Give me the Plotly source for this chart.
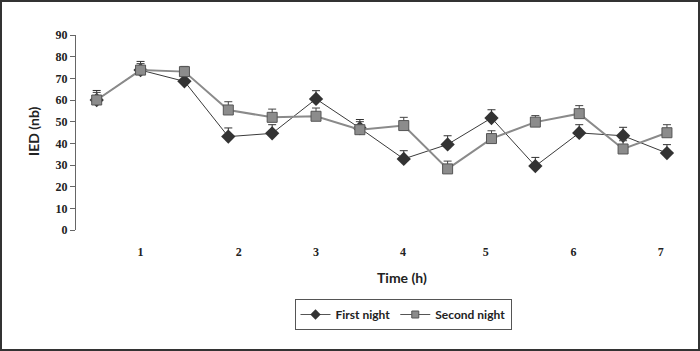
import plotly.graph_objects as go

# ---- data ----
point_index = list(range(14))
first_night = [60, 73.8, 68.6, 43.1, 44.6, 60.5, 47, 32.8, 39.5, 51.7, 29.5, 44.8, 43.5, 35.5]
first_err = [4.4, 4.0, 3.8, 4.0, 4.0, 3.8, 4.0, 3.8, 4.0, 3.8, 4.0, 3.8, 3.9, 3.9]
second_night = [60, 73.8, 73.1, 55.4, 52.0, 52.5, 46.3, 48.2, 28.2, 42.2, 49.8, 53.7, 37.4, 44.9]
second_err = [3.5, 3.0, 2.4, 3.8, 3.8, 3.8, 3.7, 3.8, 3.6, 3.6, 3.0, 3.7, 3.8, 3.7]
tick_labels = ["1", "2", "3", "4", "5", "6", "7"]
tick_positions = [1, 3.24, 5.0, 6.98, 8.87, 10.87, 12.86]
y_ticks = [0, 10, 20, 30, 40, 50, 60, 70, 80, 90]

W, H = 700, 351
ML, MR, MT, MB = 76, 12, 35, 121
pw = W - ML - MR
ph = H - MT - MB

serif = "Liberation Serif"
sans = "Lato"

first_line = dict(color="#3a3a3a", width=1)
second_line = dict(color="#8a8a8a", width=2)

fig = go.Figure()
fig.add_trace(go.Scatter(
    x=point_index, y=first_night, name="First night", mode="lines+markers", showlegend=False,
    line=first_line,
    marker=dict(symbol="diamond", size=11, color="#333333", line=dict(color="#333333", width=0)),
    error_y=dict(type="data", array=first_err, arrayminus=[0] * len(first_err), symmetric=False,
                 color="#333333", thickness=1, width=4),
))
fig.add_trace(go.Scatter(
    x=point_index, y=second_night, name="Second night", mode="lines+markers", showlegend=False,
    line=second_line,
    marker=dict(symbol="square", size=10, color="#8c8c8c", line=dict(color="#555555", width=1)),
    error_y=dict(type="data", array=second_err, arrayminus=[0] * len(second_err), symmetric=False,
                 color="#444444", thickness=1, width=4),
))
# legend entries with smaller symbols, as in the original
fig.add_trace(go.Scatter(
    x=[None], y=[None], name="First night", mode="lines+markers",
    line=dict(color="#555555", width=1),
    marker=dict(symbol="diamond", size=8, color="#333333"),
))
fig.add_trace(go.Scatter(
    x=[None], y=[None], name="Second night", mode="lines+markers",
    line=dict(color="#555555", width=1),
    marker=dict(symbol="square", size=7, color="#8c8c8c", line=dict(color="#555555", width=1)),
))

fig.update_layout(
    width=W, height=H,
    margin=dict(l=ML, r=MR, t=MT, b=MB),
    paper_bgcolor="white", plot_bgcolor="white",
    showlegend=True,
    legend=dict(orientation="h", x=(403 - ML) / pw, xanchor="center",
                y=(MT + ph - 299) / ph, yanchor="top",
                bordercolor="#555555", borderwidth=1,
                font=dict(family=sans, size=12, color="#222222", weight="bold"),
                itemwidth=30, tracegroupgap=0),
    xaxis=dict(range=[-0.472, 13.48], showline=False, showgrid=False, zeroline=False,
               ticks="", tickmode="array", tickvals=tick_positions, ticktext=tick_labels,
               ticklabelstandoff=13,
               tickfont=dict(family=serif, size=12, color="#222222", weight="bold")),
    yaxis=dict(range=[0, 90], showline=True, linecolor="#666666", linewidth=1,
               showgrid=False, zeroline=False, ticks="outside", ticklen=5, tickcolor="#666666",
               tickmode="array", tickvals=y_ticks,
               tickfont=dict(family=serif, size=12, color="#222222", weight="bold")),
    annotations=[
        dict(text="Time (h)", xref="paper", yref="paper", x=(402 - ML) / pw, y=(MT + ph - 277) / ph,
             xanchor="center", yanchor="middle", showarrow=False,
             font=dict(family=sans, size=14, color="#222222", weight="bold")),
        dict(text="IED (nb)", xref="paper", yref="paper", x=(33 - ML) / pw, y=(MT + ph - 132) / ph,
             xanchor="center", yanchor="middle", showarrow=False, textangle=-90,
             font=dict(family=sans, size=14, color="#222222", weight="bold")),
    ],
    shapes=[dict(type="rect", xref="paper", yref="paper",
                 x0=(1 - ML) / pw, x1=(699 - ML) / pw,
                 y0=(MT + ph - 350) / ph, y1=(MT + ph - 1) / ph,
                 line=dict(color="#333333", width=2), fillcolor="rgba(0,0,0,0)", layer="below")],
)

fig.write_html("out.html")
